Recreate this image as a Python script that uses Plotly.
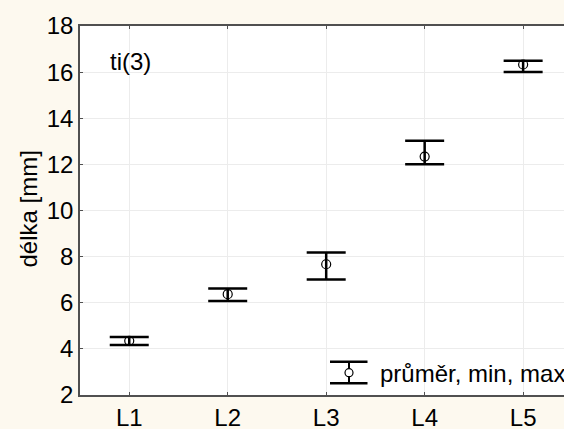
import plotly.graph_objects as go

categories = ["L1", "L2", "L3", "L4", "L5"]
mean_vals = [4.35, 6.37, 7.67, 12.34, 16.33]
min_vals = [4.17, 6.08, 7.01, 12.01, 16.01]
max_vals = [4.52, 6.62, 8.18, 13.02, 16.49]
y_ticks = [2, 4, 6, 8, 10, 12, 14, 16, 18]

W, H = 564, 429
ML, MR, MT, MB = 80, 0, 26, 34
PW, PH = W - ML - MR, H - MT - MB

def px(x):
    return (x - ML) / PW

def py(y):
    return (H - MB - y) / PH

FONT = "Liberation Sans, Arial, sans-serif"
FS = 24

fig = go.Figure()
fig.add_trace(go.Scatter(
    x=list(range(len(categories))),
    y=mean_vals,
    mode="markers",
    marker=dict(symbol="circle-open", size=9, color="black", line=dict(width=1.2, color="black")),
    error_y=dict(
        type="data", symmetric=False,
        array=[mx - m for mx, m in zip(max_vals, mean_vals)],
        arrayminus=[m - mn for m, mn in zip(mean_vals, min_vals)],
        color="black", thickness=2.5, width=19.5,
    ),
    showlegend=False,
))

# legend icon (drawn manually)
lx0, lx1, lxc = 330, 367.5, 349
ly_top, ly_bot, ly_c = 361.7, 383.3, 372.7
shapes = [
    dict(type="line", xref="paper", yref="paper", x0=px(lx0), x1=px(lx1), y0=py(ly_top), y1=py(ly_top),
         line=dict(color="black", width=2.5)),
    dict(type="line", xref="paper", yref="paper", x0=px(lx0), x1=px(lx1), y0=py(ly_bot), y1=py(ly_bot),
         line=dict(color="black", width=2.5)),
    dict(type="line", xref="paper", yref="paper", x0=px(lxc), x1=px(lxc), y0=py(ly_top), y1=py(ly_bot),
         line=dict(color="black", width=2)),
    dict(type="circle", xref="paper", yref="paper", x0=px(lxc - 4), x1=px(lxc + 4), y0=py(ly_c - 4), y1=py(ly_c + 4),
         line=dict(color="black", width=1.2), fillcolor="white"),
]

annotations = [
    dict(text="ti(3)", xref="paper", yref="paper", x=px(107.5), y=py(62), xanchor="left", yanchor="middle",
         showarrow=False, font=dict(family=FONT, size=FS, color="black")),
    dict(text="průměr, min, max", xref="paper", yref="paper", x=px(377.5), y=py(373), xanchor="left", yanchor="middle",
         showarrow=False, font=dict(family=FONT, size=FS, color="black")),
    dict(text="délka [mm]", xref="paper", yref="paper", x=px(28), y=py(209.5), xanchor="center", yanchor="middle",
         textangle=-90, showarrow=False, font=dict(family=FONT, size=FS, color="black")),
]

fig.update_layout(
    width=W, height=H,
    margin=dict(l=ML, r=MR, t=MT, b=MB, pad=0),
    paper_bgcolor="#fdf9ef",
    plot_bgcolor="white",
    shapes=shapes,
    annotations=annotations,
    font=dict(family=FONT, size=FS, color="black"),
    xaxis=dict(
        tickmode="array", tickvals=list(range(len(categories))), ticktext=categories,
        range=[-0.5, 4.415],
        showgrid=True, gridcolor="#ececec", gridwidth=1,
        showline=True, linecolor="#505050", linewidth=1.5, mirror="ticks",
        ticks="inside", ticklen=3, tickcolor="#505050",
        tickfont=dict(family=FONT, size=FS, color="black"),
        zeroline=False, automargin=False,
    ),
    yaxis=dict(
        tickmode="array", tickvals=y_ticks,
        range=[2, 18],
        showgrid=True, gridcolor="#ececec", gridwidth=1,
        showline=True, linecolor="#505050", linewidth=1.5,
        ticks="inside", ticklen=3, tickcolor="#505050",
        tickfont=dict(family=FONT, size=FS, color="black"),
        zeroline=False, automargin=False,
    ),
)

fig.write_html(
    "out.html",
    config={"displayModeBar": False},
    post_script="document.body.style.margin='0';document.body.style.overflow='hidden';",
)
